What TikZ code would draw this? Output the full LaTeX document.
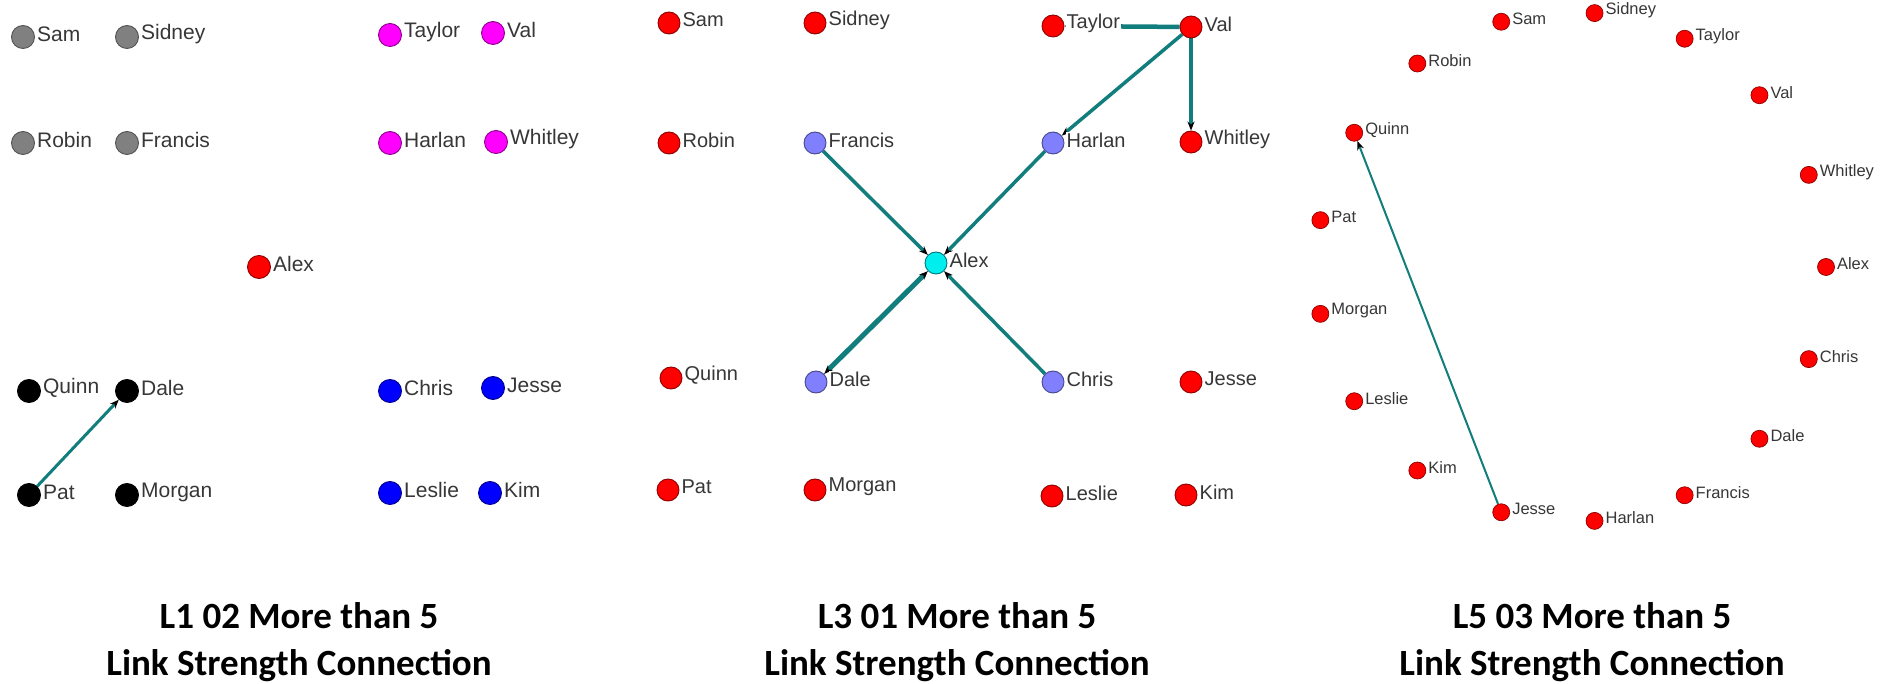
\documentclass[tikz,border=0pt]{standalone}
\usepackage{fontspec}
\setmainfont{Liberation Sans}
\newfontfamily\headfont{Carlito}
\usetikzlibrary{arrows.meta,calc,backgrounds}

\definecolor{tieteal}{RGB}{18,125,125}
\definecolor{labelgray}{RGB}{55,55,55}
\definecolor{nodegray}{RGB}{128,128,128}
\definecolor{brightpink}{RGB}{255,0,255}
\definecolor{periwinkle}{RGB}{128,128,255}
\definecolor{aqua}{RGB}{0,238,238}

\tikzset{
  base/.style={circle, inner sep=0pt, line width=0.9pt, minimum size=23pt},
  greydot/.style={base, fill=nodegray, draw=nodegray!65!black},
  pinkdot/.style={base, fill=brightpink, draw=brightpink!55!black},
  reddot/.style={base, fill=red, draw=red!55!black},
  blackdot/.style={base, fill=black, draw=black},
  bluedot/.style={base, fill=blue, draw=blue!55!black},
  lilacdot/.style={base, fill=periwinkle, draw=periwinkle!55!black},
  aquadot/.style={base, fill=aqua, draw=aqua!50!black},
  mid/.style={minimum size=22pt},
  small/.style={minimum size=17pt, line width=0.7pt},
  tag/.style={text=labelgray, inner sep=0.5pt, anchor=west,
              font=\fontsize{21}{23}\selectfont},
  midtag/.style={font=\fontsize{20}{22}\selectfont, fill=white},
  smalltag/.style={font=\fontsize{16.5}{18}\selectfont},
  link/.style={draw=tieteal, line width=3.5pt,
               -{Stealth[length=9pt,width=7pt,color=black]}},
  head/.style={font=\headfont\bfseries\fontsize{37}{42}\selectfont,
               text=black, inner sep=0pt}
}

% \actor{node name}{dot style}{position}{label text}{label style}
\newcommand{\actor}[5]{%
  \node[#2] (#1) at (#3) {};
  \node[tag,#5] (#1-name) at ([xshift=1.5pt,yshift=3pt]#1.east) {#4};%
}

\begin{document}
\begin{tikzpicture}[x=1pt,y=-1pt]
\useasboundingbox (0,0) rectangle (1895,684);

% ---------- L1 02: groups by colour ----------
\actor{a-Sam}{greydot}{23,37}{Sam}{}
\actor{a-Sidney}{greydot}{127,37}{Sidney}{}
\actor{a-Robin}{greydot}{23,143}{Robin}{}
\actor{a-Francis}{greydot}{127,143}{Francis}{}
\actor{a-Taylor}{pinkdot}{390,35}{Taylor}{}
\actor{a-Val}{pinkdot}{493,33}{Val}{}
\actor{a-Harlan}{pinkdot}{390,143}{Harlan}{}
\actor{a-Whitley}{pinkdot}{496,142}{Whitley}{}
\actor{a-Alex}{reddot}{259,267}{Alex}{}
\actor{a-Quinn}{blackdot}{29,391}{Quinn}{}
\actor{a-Dale}{blackdot}{127,391}{Dale}{}
\actor{a-Pat}{blackdot}{29,495}{Pat}{}
\actor{a-Morgan}{blackdot}{127,495}{Morgan}{}
\actor{a-Chris}{bluedot}{390,391}{Chris}{}
\actor{a-Jesse}{bluedot}{493,388}{Jesse}{}
\actor{a-Leslie}{bluedot}{390,493}{Leslie}{}
\actor{a-Kim}{bluedot}{490,493}{Kim}{}

% ---------- L3 01: grid with Alex in the middle ----------
\actor{b-Sam}{reddot,mid}{669,23}{Sam}{midtag}
\actor{b-Sidney}{reddot,mid}{815,23}{Sidney}{midtag}
\actor{b-Taylor}{reddot,mid}{1053,26}{Taylor}{midtag}
\actor{b-Val}{reddot,mid}{1191,27}{Val}{midtag}
\actor{b-Robin}{reddot,mid}{669,143}{Robin}{midtag}
\actor{b-Francis}{lilacdot,mid}{815,143}{Francis}{midtag}
\actor{b-Harlan}{lilacdot,mid}{1053,143}{Harlan}{midtag}
\actor{b-Whitley}{reddot,mid}{1191,142}{Whitley}{midtag}
\actor{b-Alex}{aquadot,mid}{936,263}{Alex}{midtag}
\actor{b-Quinn}{reddot,mid}{671,378}{Quinn}{midtag}
\actor{b-Dale}{lilacdot,mid}{816,382}{Dale}{midtag}
\actor{b-Chris}{lilacdot,mid}{1053,382}{Chris}{midtag}
\actor{b-Jesse}{reddot,mid}{1191,382}{Jesse}{midtag}
\actor{b-Pat}{reddot,mid}{668,490}{Pat}{midtag}
\actor{b-Morgan}{reddot,mid}{815,490}{Morgan}{midtag}
\actor{b-Leslie}{reddot,mid}{1052,496}{Leslie}{midtag}
\actor{b-Kim}{reddot,mid}{1186,495}{Kim}{midtag}

% ---------- L5 03: circle layout, alphabetical ----------
\foreach \n [count=\k from 0] in {Alex,Chris,Dale,Francis,Harlan,Jesse,Kim,
    Leslie,Morgan,Pat,Quinn,Robin,Sam,Sidney,Taylor,Val,Whitley} {
  \actor{c-\n}{reddot,small}{$(1571,267)+({\k*360/17}:255)$}{\n}{smalltag}
}

% ---------- captions ----------
\node[head] (h1a) at (299,616) {L1 02 More than 5};
\node[head] (h1b) at (299,666) {Link Strength Connection};
\node[head] (h2a) at (957,616) {L3 01 More than 5};
\node[head] (h2b) at (957,666) {Link Strength Connection};
\node[head] (h3a) at (1592,616) {L5 03 More than 5};
\node[head] (h3b) at (1592,666) {Link Strength Connection};

% ---------- ties, kept under the dots ----------
\begin{pgfonlayer}{background}
  \fill[white] (0,0) rectangle (1895,684);
  \draw[link, line width=3pt] (a-Pat) -- (a-Dale);

  \draw[link, line width=4.5pt] (b-Val) -- (b-Taylor);
  \draw[link] (b-Val) -- (b-Harlan);
  \draw[link] (b-Val) -- (b-Whitley);
  \draw[link] (b-Francis) -- (b-Alex);
  \draw[link] (b-Harlan) -- (b-Alex);
  \draw[link] (b-Chris) -- (b-Alex);
  \draw[link, line width=5pt,
        {Stealth[length=9pt,width=7pt,color=black]}-{Stealth[length=9pt,width=7pt,color=black]}]
        (b-Dale) -- (b-Alex);

  \draw[link, line width=2pt] (c-Jesse) -- (c-Quinn);
\end{pgfonlayer}
\end{tikzpicture}
\end{document}
